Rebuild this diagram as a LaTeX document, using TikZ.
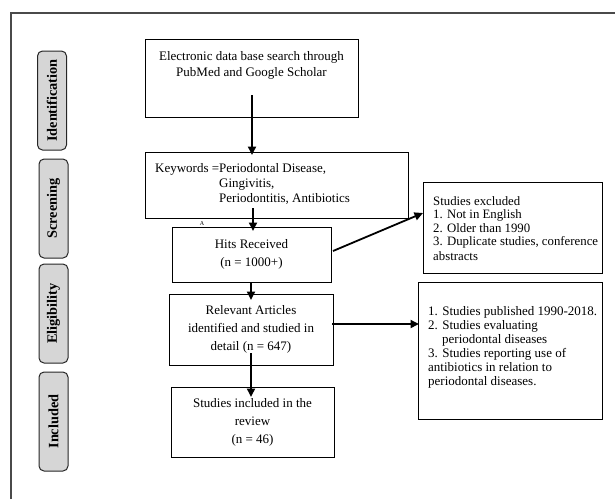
\documentclass[tikz,border=0pt]{standalone}
\usepackage{fontspec}
\setmainfont{Liberation Serif}
\usetikzlibrary{arrows.meta}
\definecolor{framegray}{HTML}{4A4A4A}
\definecolor{labelfill}{HTML}{D6D6D6}
\tikzset{
  box/.style={draw=black, line width=0.9pt, anchor=north west, inner sep=0pt},
  side/.style={draw=black!85, line width=1pt, fill=labelfill, rounded corners=5pt,
    rotate=90, minimum width=99pt, minimum height=29pt, inner sep=0pt,
    font=\fontsize{14.3}{16}\selectfont\bfseries},
  txt/.style={inner sep=0pt, font=\fontsize{13}{17.7}\selectfont},
  arr/.style={line width=1.8pt, -{Triangle[length=8.5pt,width=8pt]}},
}
\begin{document}
\begin{tikzpicture}[x=1pt,y=-1pt]
\useasboundingbox (0,0) rectangle (615,499);
% outer frame (top and left edges visible)
\draw[framegray, line width=1.5pt] (11,499) -- (11,13) -- (615,13);
% side labels
\node[side] (lid) at (52,100.5) {Identification};
\node[side] (lsc) at (53.5,208.5) {Screening};
\node[side] (lel) at (53.5,313.5) {Eligibility};
\node[side] (lin) at (53.5,421.5) {Included};
% boxes
\node[box, minimum width=213pt, minimum height=78pt] (b1) at (145,39) {};
\node[box, minimum width=263pt, minimum height=66pt] (b2) at (145,152) {};
\node[box, minimum width=159pt, minimum height=55pt] (b3) at (172,227) {};
\node[box, minimum width=164pt, minimum height=71pt] (b4) at (169,294) {};
\node[box, minimum width=163pt, minimum height=70pt] (b5) at (171,387) {};
\node[box, minimum width=179pt, minimum height=91pt] (b6) at (423,182) {};
\node[box, minimum width=184pt, minimum height=137pt] (b7) at (418,282) {};
% texts
\node[txt, align=center, font=\fontsize{13}{16}\selectfont] (t1) at (251.5,65)
  {Electronic data base search through\\PubMed and Google Scholar};
\node[txt, align=left, anchor=west, font=\fontsize{13}{15}\selectfont] (t2) at (155,184)
  {Keywords =Periodontal Disease,\\\phantom{Keywords =}Gingivitis,\\\phantom{Keywords =}Periodontitis, Antibiotics};
\node[txt, align=center, font=\fontsize{13}{18}\selectfont] (t3) at (251.5,254)
  {Hits Received\\(n = 1000+)};
\node[txt, align=center] (t4) at (251,329.5)
  {Relevant Articles\\identified and studied in\\detail (n = 647)};
\node[txt, align=center, font=\fontsize{13}{18}\selectfont] (t5) at (252.5,422)
  {Studies included in the\\review\\(n = 46)};
\node[txt, align=left, anchor=west, font=\fontsize{12.8}{13.5}\selectfont] (t6) at (433,228.5)
  {Studies excluded\\1. Not in English\\2. Older than 1990\\3. Duplicate studies, conference\\[1.5pt]abstracts};
\node[txt, align=left, anchor=west, font=\fontsize{13}{14}\selectfont] (t7) at (428,347)
  {1. Studies published 1990-2018.\\2. Studies evaluating\\\hspace*{14pt}periodontal diseases\\3. Studies reporting use of\\antibiotics in relation to\\periodontal diseases.};
\node[inner sep=0pt, font=\fontsize{6}{7}\selectfont] (mark) at (202,224) {A};
% arrow anchor coordinates
\coordinate (a1s) at (252,95);
\coordinate (a1e) at (252,155);
\coordinate (a2s) at (253,208);
\coordinate (a2e) at (253,231);
\coordinate (a3s) at (251,282);
\coordinate (a3e) at (251,300);
\coordinate (a4s) at (251,353);
\coordinate (a4e) at (251,397);
\coordinate (a5s) at (333,251);
\coordinate (a5e) at (423,213);
\coordinate (a6s) at (332,324);
\coordinate (a6e) at (419,324);
% connectors
\draw[arr] (a1s) -- (a1e);
\draw[arr] (a2s) -- (a2e);
\draw[arr] (a3s) -- (a3e);
\draw[arr] (a4s) -- (a4e);
\draw[arr] (a5s) -- (a5e);
\draw[arr] (a6s) -- (a6e);
\end{tikzpicture}
\end{document}
